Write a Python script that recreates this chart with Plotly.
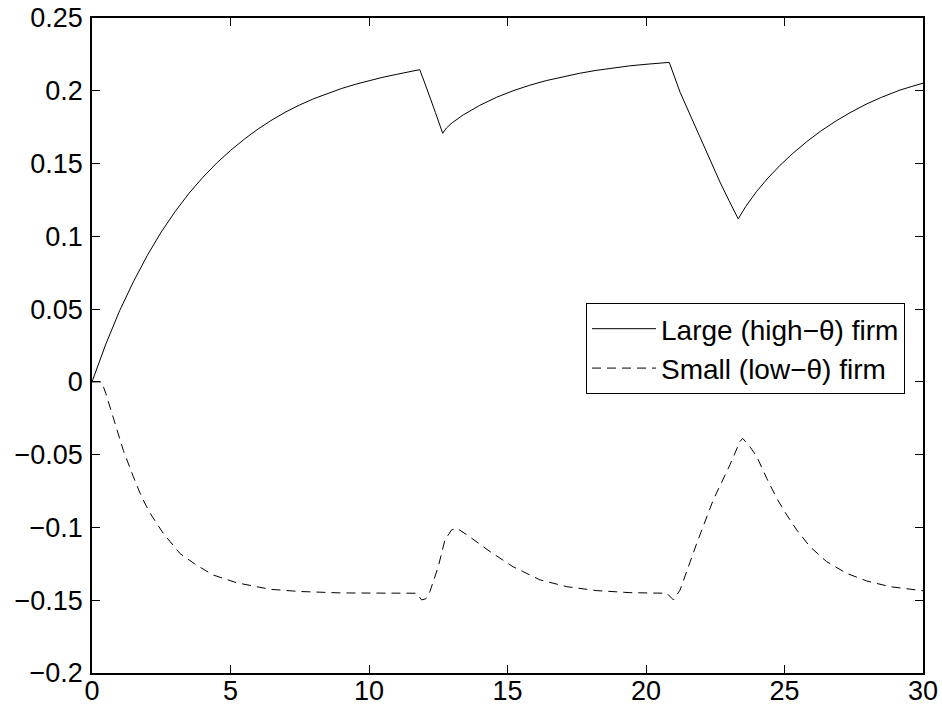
import plotly.graph_objects as go

# Large (high-theta) firm
t_large = [0, 0.5, 1, 1.5, 2, 2.5, 3, 3.5, 4, 4.5, 5, 5.5, 6, 6.5, 7, 7.5, 8, 8.5, 9, 9.5,
           10, 10.5, 11, 11.5, 11.83, 12.0, 12.2, 12.4, 12.66, 12.8, 13.0, 13.4, 14.0, 14.6,
           15.2, 15.8, 16.4, 17.0, 17.6, 18.2, 18.8, 19.4, 20.0, 20.84, 21.23, 21.6, 21.95,
           22.3, 22.67, 23.0, 23.33, 23.6, 24.0, 24.4, 24.84, 25.3, 25.8, 26.3, 26.88, 27.4,
           27.97, 28.5, 29.17, 29.6, 30]
v_large = [0, 0.026, 0.049, 0.069, 0.087, 0.103, 0.117, 0.1295, 0.1405, 0.1503, 0.159,
           0.1668, 0.1738, 0.180, 0.1855, 0.1903, 0.1945, 0.1982, 0.2015, 0.2044, 0.207,
           0.2093, 0.2113, 0.2131, 0.2145, 0.206, 0.196, 0.185, 0.1708, 0.1745, 0.178, 0.1834,
           0.190, 0.1955, 0.2000, 0.2038, 0.2070, 0.2097, 0.212, 0.2140, 0.2157, 0.2171,
           0.2182, 0.2195, 0.1990, 0.1830, 0.1677, 0.1525, 0.1373, 0.1244, 0.112, 0.1205,
           0.131, 0.140, 0.1488, 0.157, 0.165, 0.1722, 0.1795, 0.1853, 0.191, 0.1955, 0.2005,
           0.203, 0.2052]

# Small (low-theta) firm
t_small = [0, 0.35, 0.5, 0.65, 0.89, 1.13, 1.49, 1.79, 2.09, 2.57, 3.18, 3.78, 4.38, 5.22,
           6.43, 7.5, 9.0, 10.4, 11.72, 11.9, 12.05, 12.2, 12.5, 12.74, 12.98, 13.17, 13.53,
           14.37, 15.2, 16.17, 17.14, 18.22, 19.42, 20.75, 20.99, 21.23, 21.83, 22.43, 23.03,
           23.39, 23.49, 23.75, 24.0, 24.36, 24.72, 25.08, 25.44, 25.92, 26.52, 27.24, 27.97,
           28.81, 29.77, 30]
v_small = [0, 0, -0.008, -0.017, -0.033, -0.047, -0.065, -0.079, -0.090, -0.104, -0.118,
           -0.126, -0.1327, -0.138, -0.1425, -0.144, -0.145, -0.1452, -0.1452, -0.1498, -0.149,
           -0.144, -0.127, -0.1086, -0.1017, -0.1006, -0.105, -0.1166, -0.127, -0.136, -0.1407,
           -0.1434, -0.1448, -0.1452, -0.1498, -0.143, -0.111, -0.081, -0.057, -0.041, -0.0388,
           -0.0445, -0.0514, -0.0663, -0.080, -0.0914, -0.1017, -0.1132, -0.1235, -0.1315,
           -0.1368, -0.1407, -0.143, -0.1435]

x_ticks = [0, 5, 10, 15, 20, 25, 30]
y_ticks = [-0.2, -0.15, -0.1, -0.05, 0, 0.05, 0.1, 0.15, 0.2, 0.25]
y_ticktext = ["\u22120.2", "\u22120.15", "\u22120.1", "\u22120.05", "0", "0.05", "0.1",
              "0.15", "0.2", "0.25"]

FONT = "Liberation Sans, Arial, Helvetica, sans-serif"

fig = go.Figure()
fig.add_trace(go.Scatter(x=t_large, y=v_large, mode="lines",
                         name="Large (high\u2212\u03b8) firm",
                         line=dict(color="black", width=1)))
fig.add_trace(go.Scatter(x=t_small, y=v_small, mode="lines",
                         name="Small (low\u2212\u03b8) firm",
                         line=dict(color="black", width=1, dash="9px,6px")))

axis_common = dict(showline=True, linecolor="black", linewidth=1.5, mirror="ticks",
                   ticks="inside", ticklen=8, tickcolor="black", tickwidth=1,
                   showgrid=False, zeroline=False, automargin=False,
                   tickfont=dict(family=FONT, size=27, color="black"))

fig.update_layout(
    width=942, height=708,
    margin=dict(l=92, r=19, t=18, b=35),
    paper_bgcolor="white", plot_bgcolor="white",
    showlegend=True,
    legend=dict(x=0.5945, y=0.5649, xanchor="left", yanchor="top",
                bgcolor="white", bordercolor="black", borderwidth=1,
                font=dict(family=FONT, size=28, color="black"),
                itemwidth=64, tracegroupgap=0),
    xaxis=dict(range=[0, 30], tickvals=x_ticks, ticktext=[str(v) for v in x_ticks],
               ticklabelstandoff=-7, **axis_common),
    yaxis=dict(range=[-0.2, 0.25], tickvals=y_ticks, ticktext=y_ticktext,
               ticklabelstandoff=2, **axis_common),
)

fig.write_html("out.html")
